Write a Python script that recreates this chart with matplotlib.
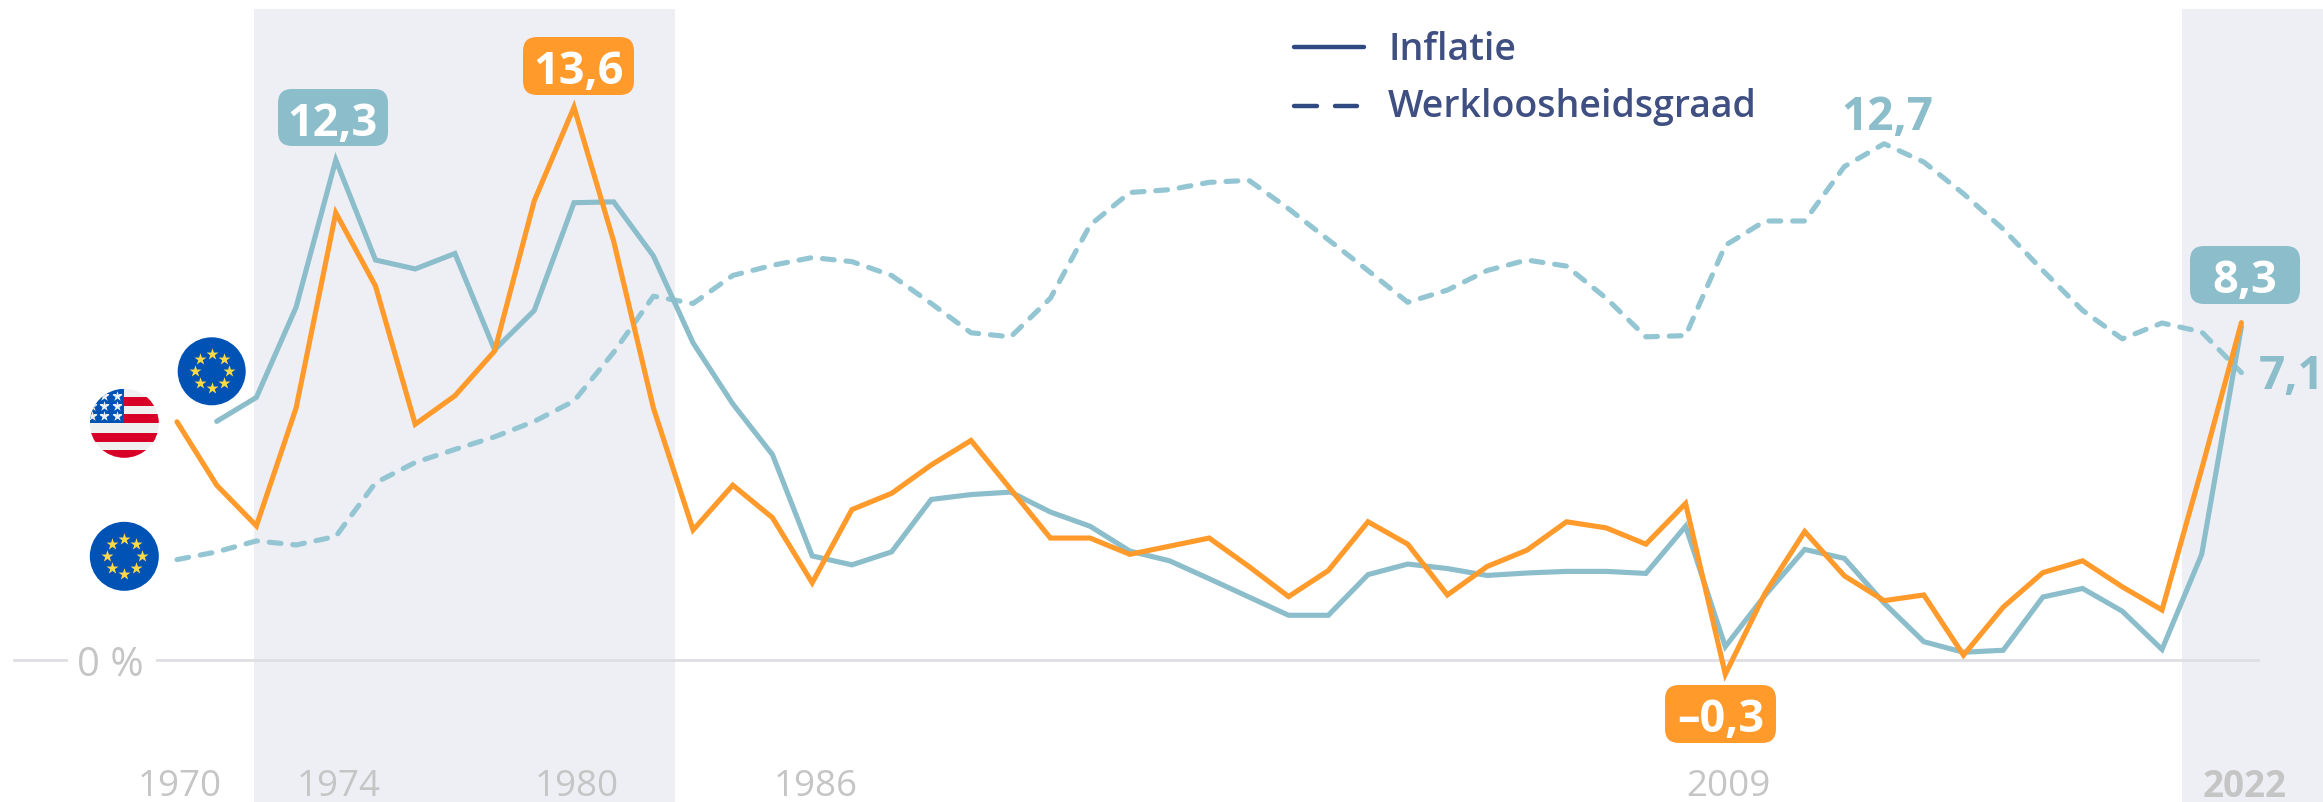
# !/usr/bin/env python3
# -*- coding: utf-8 -*-

import numpy as np
import matplotlib
matplotlib.use('Agg')
import matplotlib.pyplot as plt
from matplotlib.patches import Circle, FancyBboxPatch, Rectangle

plt.rcParams['font.family'] = ['Open Sans', 'DejaVu Sans']

years_us = list(range(1970, 2023))
years_eu = list(range(1971, 2023))

# inflatie VS
inflation_us = [5.86, 4.3, 3.3, 6.2, 11.0, 9.2, 5.8, 6.5, 7.6, 11.3, 13.6, 10.3, 6.2, 3.2, 4.3, 3.5,
                1.9, 3.7, 4.1, 4.8, 5.4, 4.2, 3.0, 3.0, 2.6, 2.8, 3.0, 2.3, 1.56, 2.2, 3.4, 2.85,
                1.6, 2.3, 2.7, 3.4, 3.25, 2.85, 3.85, -0.35, 1.64, 3.16, 2.07, 1.46, 1.6, 0.12,
                1.3, 2.15, 2.44, 1.8, 1.23, 4.7, 8.3]
# inflatie EU, begint in 1971
inflation_eu = [5.87, 6.46, 8.68, 12.3, 9.84, 9.62, 10.0, 7.63, 8.6, 11.25, 11.27, 9.94, 7.8, 6.3, 5.05,
                2.56, 2.34, 2.66, 3.95, 4.07, 4.13, 3.64, 3.29, 2.68, 2.44, 2.0, 1.55, 1.1, 1.1, 2.1,
                2.36, 2.25, 2.08, 2.14, 2.18, 2.18, 2.13, 3.29, 0.33, 1.59, 2.72, 2.5, 1.4, 0.45,
                0.19, 0.24, 1.55, 1.76, 1.2, 0.26, 2.6, 8.2]
# werkloosheid EU
unemployment_eu = [2.47, 2.66, 2.93, 2.83, 3.04, 4.36, 4.86, 5.18, 5.49, 5.87, 6.37, 7.57, 8.95, 8.77,
                   9.46, 9.71, 9.9, 9.8, 9.46, 8.77, 8.05, 7.95, 8.9, 10.7, 11.5, 11.57, 11.75, 11.8,
                   11.1, 10.34, 9.58, 8.8, 9.1, 9.58, 9.84, 9.69, 8.9, 7.95, 7.98, 10.2, 10.8, 10.8,
                   12.14, 12.7, 12.25, 11.47, 10.6, 9.58, 8.6, 7.9, 8.29, 8.07, 7.07]

tick_years = [1970, 1974, 1980, 1986, 2009, 2022]
band_years = [(1971.93, 1982.55), (2020.5, 2030)]

W, H = 2323, 803
x0_px, y0_px = 177, 661   # pixel van 1970 / 0 %
px_year, px_pct = 39.7, 40.65

blue = '#8BBDCB'
blue_dash = '#93C6D2'
orange = '#FF9A2B'
navy = '#2F4A80'
navy_text = '#3F4F82'
grey = '#C5C5C5'

fig = plt.figure(figsize=(W / 100, H / 100), dpi=100)
ax = fig.add_axes([0, 0, 1, 1])
ax.set_xlim(1970 - x0_px / px_year, 1970 + (W - x0_px) / px_year)
ax.set_ylim((y0_px - H) / px_pct, y0_px / px_pct)
ax.axis('off')

# overlay in pixels voor vlaggen, labels en legenda
ov = fig.add_axes([0, 0, 1, 1], zorder=5)
ov.set_xlim(0, W)
ov.set_ylim(H, 0)
ov.axis('off')
ov.patch.set_alpha(0)

band_top = (y0_px - 10) / px_pct
for start, end in band_years:
    ax.fill_between([start, end], ax.get_ylim()[0], band_top, color='#EEEFF5', lw=0, zorder=1)

# nullijn, onderbroken voor het label
ax.plot([(14 - x0_px) / px_year + 1970, (66 - x0_px) / px_year + 1970], [0, 0], color='#DFDFE3', lw=2, zorder=2)
ax.plot([(157 - x0_px) / px_year + 1970, (2258 - x0_px) / px_year + 1970], [0, 0], color='#DFDFE3', lw=2, zorder=2)
ax.text((110 - x0_px) / px_year + 1970, 0, '0 %', color=grey, fontsize=29, ha='center', va='center_baseline')

ax.plot(years_us, unemployment_eu, color=blue_dash, lw=3.7, dashes=(2.3, 2.3), dash_capstyle='round', zorder=3)
ax.plot(years_eu, inflation_eu, color=blue, lw=3.7, solid_capstyle='round', solid_joinstyle='miter', zorder=4)
ax.plot(years_us, inflation_us, color=orange, lw=3.7, solid_capstyle='round', solid_joinstyle='miter', zorder=4)

for y in tick_years:
    ax.text(y + 0.08, -3.0, str(y), color=grey, fontsize=26.5, ha='center', va='center_baseline',
            fontweight='bold' if y == 2022 else 'normal')


def value_box(x1, x2, y1, y2, label, color):
    ov.add_patch(FancyBboxPatch((x1 + 14, y1 + 14), x2 - x1 - 28, y2 - y1 - 28,
                                boxstyle='round,pad=14,rounding_size=14', fc=color, ec='none'))
    ov.text((x1 + x2) / 2, (y1 + y2) / 2, label, color='white', fontsize=32.5, fontweight='bold',
            ha='center', va='center_baseline')


value_box(278, 388, 90, 147, '12,3', blue)
value_box(523, 634, 38, 96, '13,6', orange)
value_box(1665, 1776, 686, 744, '–0,3', orange)
value_box(2190, 2300, 247, 305, '8,3', blue)
ov.text(1887, 112, '12,7', color=blue, fontsize=33, fontweight='bold', ha='center', va='center_baseline')
ov.text(2292, 371, '7,1', color=blue, fontsize=33, fontweight='bold', ha='center', va='center_baseline')

# legenda
ov.plot([1294, 1364], [47.5, 47.5], color=navy, lw=3.2, solid_capstyle='round')
ov.plot([1294, 1317], [106.5, 106.5], color=navy, lw=3.2, solid_capstyle='round')
ov.plot([1335, 1357], [106.5, 106.5], color=navy, lw=3.2, solid_capstyle='round')
ov.text(1388, 45, 'Inflatie', color=navy_text, fontsize=27, va='center_baseline', fontweight='semibold')
ov.text(1388, 103, 'Werkloosheidsgraad', color=navy_text, fontsize=27, va='center_baseline', fontweight='semibold')


def stars_eu(cx, cy, r):
    ang = np.deg2rad(np.arange(0, 360, 45))
    ov.scatter(cx + r * 0.5 * np.sin(ang), cy - r * 0.5 * np.cos(ang), marker='*', s=r * 2.4,
               color='#FFDA44', lw=0, zorder=7)


for cx, cy, r in [(211.7, 372.3, 34), (124.3, 557.3, 34.5)]:
    ov.add_patch(Circle((cx, cy), r, fc='#0052B4', ec='none', zorder=6))
    stars_eu(cx, cy, r)

# vlag VS
cx, cy, r = 124.3, 424.3, 34.5
clip = Circle((cx, cy), r, transform=ov.transData)
ov.add_patch(Circle((cx, cy), r, fc='#F0F0F0', ec='none', zorder=6))
stripes = [(cx, 397.5, 9.5), (cx, 415, 9), (cx - r, 433.5, 9), (cx - r, 451, 8)]
for sx, sy, sh in stripes:
    rect = Rectangle((sx, sy), cx + r - sx, sh, fc='#D80027', ec='none', zorder=6.5)
    ov.add_patch(rect)
    rect.set_clip_path(clip)
canton = Rectangle((cx - r, cy - r), r, 34, fc='#0052B4', ec='none', zorder=6.7)
ov.add_patch(canton)
canton.set_clip_path(clip)
star_x = [116.7, 116.7, 116.7, 104.3, 104.3, 104.3, 92, 92]
star_y = [396.7, 406.7, 416.7, 396.7, 406.7, 416.7, 416.7, 406.7]
stars = ov.scatter(star_x, star_y, marker='*', s=60, color='#F0F0F0', lw=0, zorder=7)
stars.set_clip_path(clip)

fig.savefig('out.png', dpi=100)
